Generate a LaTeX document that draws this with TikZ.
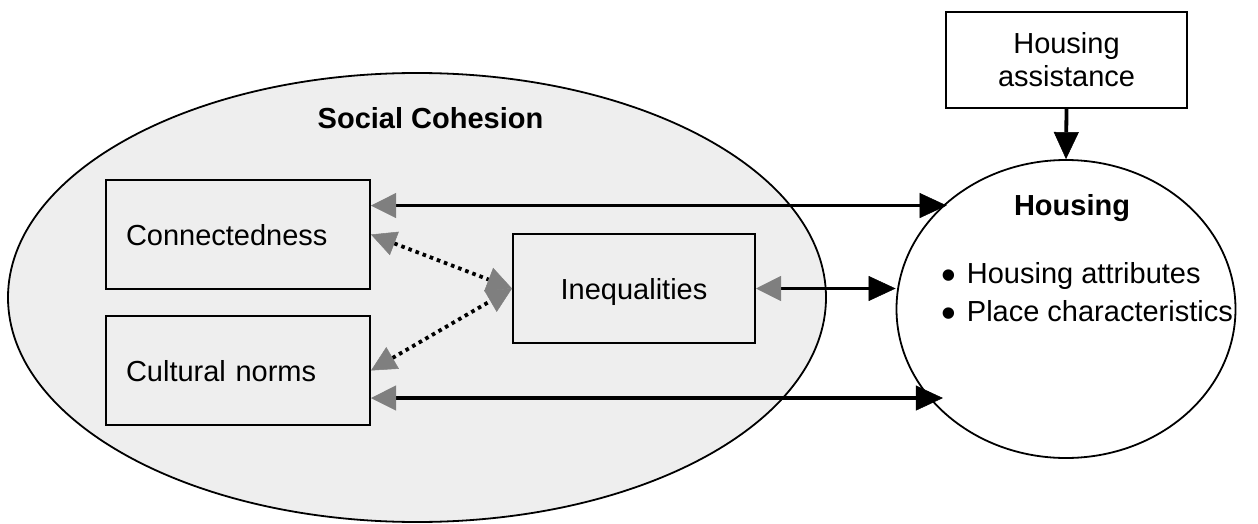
\documentclass[tikz,border=0pt]{standalone}
\usepackage{fontspec}
\setmainfont{Liberation Sans}
\usetikzlibrary{arrows.meta,shapes.geometric}
\definecolor{bgfill}{HTML}{EEEEEE}
\definecolor{tipgray}{HTML}{7F7F7F}
\newcommand{\bigbul}{\smash{\fontsize{42}{33}\selectfont\raisebox{-6pt}{•}}}
\begin{document}
\begin{tikzpicture}[x=1pt,y=-1pt,
  font=\fontsize{29}{33}\selectfont,
  boxed/.style={draw, line width=2pt, rectangle, inner sep=0pt, text height=21pt, text depth=0pt},
  leftbox/.style={boxed, fill=bgfill, minimum width=264pt, minimum height=109pt, text width=224pt, inner xsep=20pt, align=left},
  oval/.style={ellipse, draw, line width=1.8pt, inner sep=0pt},
  graytip/.tip={Triangle[length=25pt,width=25pt,line width=0.5pt,color=tipgray]},
  blacktip/.tip={Triangle[length=27pt,width=25pt,line width=0.5pt,color=black]},
  link/.style={line width=3.8pt, graytip-blacktip},
  dotlink/.style={line width=3.8pt, dash pattern=on 3.6pt off 4pt, graytip-graytip},
  down/.style={line width=3.8pt, -blacktip}
]
\useasboundingbox (0,0) rectangle (1258,524);

% big ellipse
\node[oval, fill=bgfill, minimum width=818pt, minimum height=449pt] (soc) at (417,297.5) {};
\node[anchor=base, inner sep=0pt, font=\fontsize{29}{33}\selectfont\bfseries] (soctitle) at (430.5,129) {Social Cohesion};

% housing ellipse
\node[oval, fill=white, minimum width=339pt, minimum height=298pt] (housing) at (1066,309) {};
\node[anchor=base, inner sep=0pt, font=\fontsize{29}{33}\selectfont\bfseries] (htitle) at (1072,215) {Housing};
\node[anchor=base west, inner sep=0pt] (b1) at (941,283) {\bigbul\hspace{11pt}Housing attributes};
\node[anchor=base west, inner sep=0pt] (b2) at (941,321) {\bigbul\hspace{11pt}Place characteristics};

% boxes
\node[leftbox] (conn) at (238,234.5) {Connectedness};
\node[leftbox] (cult) at (238,370.5) {Cultural norms};
\node[boxed, fill=bgfill, minimum width=242pt, minimum height=109pt] (ineq) at (634,288.5) {Inequalities};
\node[draw, line width=2pt, fill=white, minimum width=241pt, minimum height=96pt, inner sep=0pt, align=center] (assist) at (1066.5,60) {Housing\\assistance};

% connectors
\draw[down] (assist.south) -- (housing.north);
\draw[link, shorten >=-4pt] (conn.east |- housing.140.5) -- (housing.140.5);
\draw[link] (ineq.east) -- (ineq.east -| housing.west);
\draw[link, shorten >=-14pt] (cult.east |- housing.213.2) -- (housing.213.2);
\draw[dotlink] (conn.east) -- (ineq.west);
\draw[dotlink] (cult.east) -- (ineq.west);
\end{tikzpicture}
\end{document}
